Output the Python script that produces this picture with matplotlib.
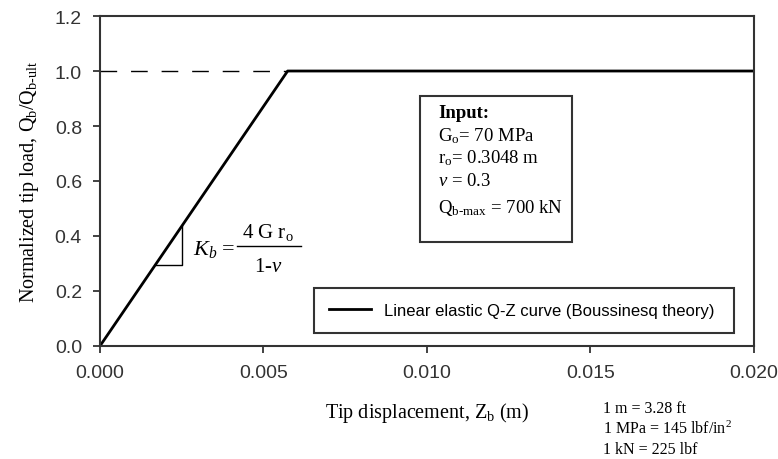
import numpy as np
import matplotlib.pyplot as plt
from matplotlib.patches import Rectangle

# Boussinesq linear elastic tip load curve
disp = [0.0, 0.00574, 0.020]      # tip displacement Zb (m)
load = [0.0, 1.0, 1.0]            # normalized tip load Qb/Qb-ult
x_ticks = [0.000, 0.005, 0.010, 0.015, 0.020]
y_ticks = [0.0, 0.2, 0.4, 0.6, 0.8, 1.0, 1.2]
input_lines = ['$\\mathrm{G_o}$= 70 MPa', '$\\mathrm{r_o}$= 0.3048 m',
               '$\\nu$ = 0.3', '$\\mathrm{Q_{b\\text{-}max}}$ = 700 kN']
unit_lines = ['1 m = 3.28 ft', '1 MPa = 145 lbf/in$^2$', '1 kN = 225 lbf']

plt.rcParams['font.family'] = 'Liberation Serif'
plt.rcParams['mathtext.fontset'] = 'custom'
plt.rcParams['mathtext.rm'] = 'Liberation Serif'
plt.rcParams['mathtext.it'] = 'Liberation Serif:italic'

fig = plt.figure(figsize=(7.78, 4.6), dpi=100)
ax = fig.add_axes([0.1285, 0.2457, 0.8405, 0.7173])

ax.plot(disp, load, color='black', lw=2.0,
        label='Linear elastic Q-Z curve (Boussinesq theory)')
ax.plot([0, disp[1]], [1.0, 1.0], color='black', lw=1.0, dashes=(12, 10))

# slope triangle
slope = load[1] / disp[1]
xa, xb = 0.0017, 0.0025
ax.plot([xa, xb, xb], [slope * xa, slope * xa, slope * xb], color='black', lw=1.0)
ax.text(0.142, 0.294, '$K_b$ =', transform=ax.transAxes, fontsize=16,
        va='center', ha='left')
ax.plot([0.210, 0.307], [0.303, 0.303], color='black', lw=1.0,
        transform=ax.transAxes)
ax.text(0.257, 0.348, '4 G r$_\\mathrm{o}$', transform=ax.transAxes, fontsize=15,
        va='center', ha='center')
ax.text(0.257, 0.242, '1-$\\nu$', transform=ax.transAxes, fontsize=15,
        va='center', ha='center')

# input box
ax.add_patch(Rectangle((0.489, 0.315), 0.233, 0.443, transform=ax.transAxes,
                       fill=False, edgecolor='#333333', lw=1.5))
ax.text(0.517, 0.709, 'Input:', transform=ax.transAxes, fontsize=13.5,
        fontweight='bold', va='center')
for s, yy in zip(input_lines, [0.640, 0.572, 0.502, 0.420]):
    ax.text(0.517, yy, s, transform=ax.transAxes, fontsize=13.5, va='center')

ax.set_xlim(0, 0.020)
ax.set_ylim(0, 1.2)
ax.set_xticks(x_ticks)
ax.set_yticks(y_ticks)
ax.set_xticklabels(['%.3f' % v for v in x_ticks], family='Liberation Sans',
                   fontsize=14, color='#333333')
ax.set_yticklabels(['%.1f' % v for v in y_ticks], family='Liberation Sans',
                   fontsize=14, color='#333333')
ax.tick_params(direction='out', length=5, width=1.3, color='#333333', pad=8)
for sp in ax.spines.values():
    sp.set_color('#333333')
    sp.set_linewidth(1.5)

ax.set_xlabel('Tip displacement, Z$_\\mathrm{b}$ (m)', fontsize=14.5, labelpad=14)
ax.set_ylabel('Normalized tip load, Q$_\\mathrm{b}$/Q$_\\mathrm{b\\text{-}ult}$',
              fontsize=14.5, labelpad=10)

leg = ax.legend(loc='center', bbox_to_anchor=(0.315, 0.039, 0.668, 0.14),
                mode='expand', fancybox=False, edgecolor='#333333',
                prop={'family': 'Liberation Sans', 'size': 12},
                handlelength=2.5, borderpad=0.9, framealpha=1)
leg.get_frame().set_linewidth(1.5)

fig.text(0.775, 0.128, '\n'.join(unit_lines), fontsize=11.5, va='top', ha='left',
         linespacing=1.3)

fig.savefig('out.png', dpi=100)
